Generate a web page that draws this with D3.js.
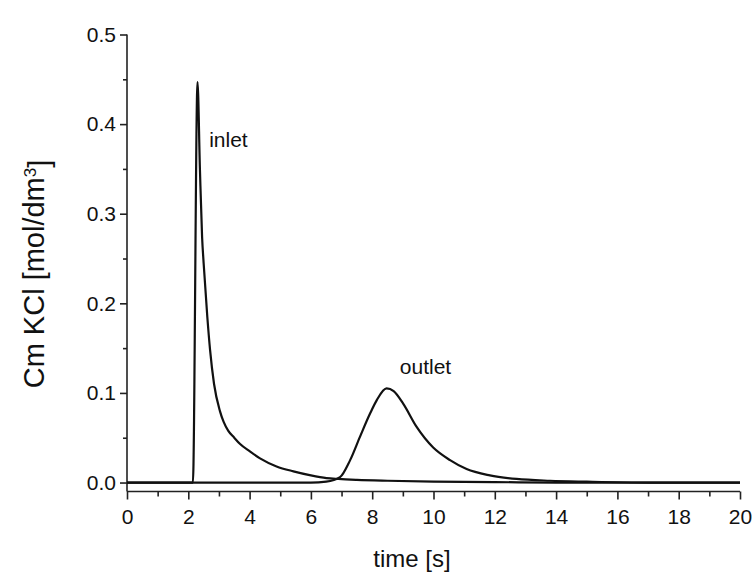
<!DOCTYPE html>
<html>
<head>
<meta charset="utf-8">
<script src="https://cdn.jsdelivr.net/npm/d3@7"></script>
<style>
  body { margin: 0; background: #fff; }
  svg { display: block; }
  text { font-family: "Liberation Sans", Arial, sans-serif; fill: #111; }
</style>
</head>
<body>
<svg id="chart" width="754" height="575"></svg>
<script>
// ---- data ----
const inletTime  = [0, 1.0, 2.0, 2.15, 2.30, 2.38, 2.45, 2.50, 2.62, 2.71, 2.84, 3.03, 3.15, 3.30, 3.50, 3.69, 4.0, 4.34, 4.88, 5.43, 6.0, 6.51, 6.9, 7.5, 8.5, 10, 12, 14, 16, 18, 20];
const inletValue = [0, 0, 0, 0, 0.447, 0.349, 0.274, 0.245, 0.185, 0.148, 0.110, 0.080, 0.068, 0.058, 0.050, 0.043, 0.035, 0.027, 0.018, 0.0125, 0.008, 0.005, 0.004, 0.003, 0.002, 0.001, 0.0005, 0, 0, 0, 0];

const outletTime  = [0, 2, 4, 6.0, 6.5, 6.95, 7.28, 7.60, 7.93, 8.15, 8.47, 8.70, 9.01, 9.45, 9.99, 10.54, 11.08, 11.84, 12.71, 13.8, 15, 17, 20];
const outletValue = [0, 0, 0, 0, 0.001, 0.006, 0.025, 0.051, 0.077, 0.092, 0.105, 0.102, 0.088, 0.062, 0.039, 0.025, 0.015, 0.008, 0.004, 0.002, 0.001, 0, 0];

const xTicks = [0, 2, 4, 6, 8, 10, 12, 14, 16, 18, 20];
const yTicks = [0.0, 0.1, 0.2, 0.3, 0.4, 0.5];
const xMinor = [1, 3, 5, 7, 9, 11, 13, 15, 17, 19];
const yMinor = [0.05, 0.15, 0.25, 0.35, 0.45];

const labels = [
  { text: "inlet",  t: 2.68, v: 0.374 },
  { text: "outlet", t: 8.9, v: 0.121 }
];

// ---- scales ----
const svg = d3.select("#chart");
const x = d3.scaleLinear().domain([0, 20]).range([127, 740]);
const y = d3.scaleLinear().domain([-0.01, 0.5]).range([491.5, 34.5]);

const fmtY = d3.format(".1f");

// x axis
const xAxis = svg.append("g").attr("transform", `translate(0,${y(-0.01)})`)
  .call(d3.axisBottom(x).tickValues(xTicks).tickFormat(d3.format("d")).tickSize(8).tickPadding(5));
svg.append("g").attr("transform", `translate(0,${y(-0.01)})`)
  .call(d3.axisBottom(x).tickValues(xMinor).tickFormat("").tickSize(5))
  .select(".domain").remove();

// y axis
const yAxis = svg.append("g").attr("transform", `translate(${x(0)},0)`)
  .call(d3.axisLeft(y).tickValues(yTicks).tickFormat(fmtY).tickSize(7).tickPadding(4));
svg.append("g").attr("transform", `translate(${x(0)},0)`)
  .call(d3.axisLeft(y).tickValues(yMinor).tickFormat("").tickSize(4))
  .select(".domain").remove();

xAxis.select(".domain").attr("d", `M${x(0)},0H${x(20)}`);
yAxis.select(".domain").attr("d", `M0,${y(0.5)}V${y(-0.01)}`);

svg.selectAll(".domain, .tick line").attr("stroke", "#222").attr("stroke-width", 1.6);
xAxis.selectAll(".tick text").style("font-size", "21px").attr("dy", "0.95em");
yAxis.selectAll(".tick text").style("font-size", "21px");
svg.selectAll(".tick text").attr("fill", "#111");

// ---- lines ----
const line = d3.line()
  .x(d => x(d[0]))
  .y(d => y(d[1]))
  .curve(d3.curveMonotoneX);

const inlet = inletTime.map((t, i) => [t, inletValue[i]]);
const outlet = outletTime.map((t, i) => [t, outletValue[i]]);

svg.append("path").datum(outlet).attr("d", line)
  .attr("fill", "none").attr("stroke", "#111").attr("stroke-width", 2.2);
svg.append("path").datum(inlet).attr("d", line)
  .attr("fill", "none").attr("stroke", "#111").attr("stroke-width", 2.2);

// ---- annotations ----
svg.selectAll("text.ann").data(labels).enter().append("text")
  .attr("class", "ann")
  .attr("x", d => x(d.t))
  .attr("y", d => y(d.v))
  .style("font-size", "21px")
  .text(d => d.text);

// ---- axis titles ----
svg.append("text")
  .attr("x", 412).attr("y", 567)
  .attr("text-anchor", "middle")
  .style("font-size", "24px")
  .text("time [s]");

const yl = svg.append("text")
  .attr("transform", "translate(44,274) rotate(-90)")
  .attr("text-anchor", "middle")
  .style("font-size", "29px");
yl.append("tspan").text("Cm KCl [mol/dm");
yl.append("tspan").attr("dy", "-0.45em").style("font-size", "17px").text("3");
yl.append("tspan").attr("dy", "0.45em").text("]");
</script>
</body>
</html>
